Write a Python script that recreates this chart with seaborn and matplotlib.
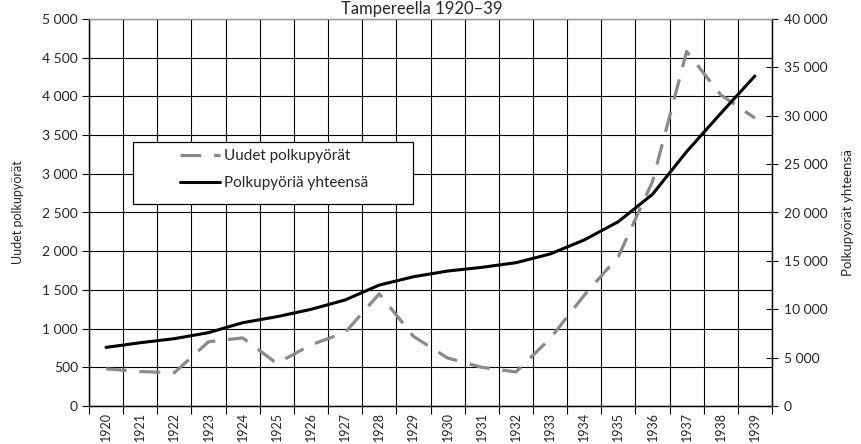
import matplotlib
matplotlib.use("Agg")
import matplotlib.pyplot as plt
import seaborn as sns
import pandas as pd
from matplotlib.patches import Rectangle
from matplotlib.ticker import FixedLocator

years = list(range(1920, 1940))
new_bikes = [480, 445, 430, 830, 880, 550, 790, 950, 1450, 900, 620, 500, 440, 870, 1430, 1930, 2900, 4580, 4020, 3720]
total_bikes = [6060, 6540, 6960, 7580, 8610, 9230, 9990, 10960, 12500, 13360, 13950, 14330, 14810, 15710, 17160, 19050, 21880, 26290, 30250, 34110]

left_ticks = [0, 500, 1000, 1500, 2000, 2500, 3000, 3500, 4000, 4500, 5000]
right_ticks = [0, 5000, 10000, 15000, 20000, 25000, 30000, 35000, 40000]

title_text = "Tampereella 1920–39"
left_label = "Uudet polkupyörät"
right_label = "Polkupyörät yhteensä"
legend_labels = ["Uudet polkupyörät", "Polkupyöriä yhteensä"]


def fmt(v):
    return f"{v:,}".replace(",", " ")


sns.set_theme(style="white")
plt.rcParams["font.family"] = ["Lato", "DejaVu Sans"]

df = pd.DataFrame({"year": years, "new": new_bikes, "total": total_bikes})

fig = plt.figure(figsize=(8.61, 4.44), dpi=100)
ax1 = fig.add_axes([89 / 861, 38 / 444, 683 / 861, 387 / 444])
ax2 = ax1.twinx()

sns.lineplot(data=df, x="year", y="new", ax=ax1, color="#8a8a8a",
             linewidth=2.3, linestyle=(0, (6.5, 4)))
sns.lineplot(data=df, x="year", y="total", ax=ax2, color="black",
             linewidth=2.2)

ax1.set_xlim(years[0] - 0.5, years[-1] + 0.5)
ax1.set_ylim(left_ticks[0], left_ticks[-1])
ax2.set_ylim(right_ticks[0], right_ticks[-1])

# x axis: labels at category centres, ticks/grid at boundaries
ax1.set_xticks(years)
ax1.set_xticklabels([str(y) for y in years], rotation=90, fontsize=9)
ax1.xaxis.set_minor_locator(FixedLocator([y - 0.5 for y in years] + [years[-1] + 0.5]))
ax1.tick_params(axis="x", which="major", length=0, pad=4.5)
ax1.tick_params(axis="x", which="minor", length=6, width=0.8, color="black", direction="out", bottom=True)

ax1.set_yticks(left_ticks)
ax1.set_yticklabels([fmt(v) for v in left_ticks], fontsize=10)
ax1.tick_params(axis="y", length=5, width=0.8, color="black", direction="out", left=True, pad=3)

ax2.set_yticks(right_ticks)
ax2.set_yticklabels([fmt(v) for v in right_ticks], fontsize=10)
ax2.tick_params(axis="y", length=9, width=0.8, color="black", direction="inout", right=True, pad=4)

ax1.grid(True, axis="y", which="major", color="black", linewidth=0.8)
ax1.grid(True, axis="x", which="minor", color="black", linewidth=0.8)
ax1.grid(False, axis="x", which="major")
ax2.grid(False)

for ax in (ax1, ax2):
    for s in ("left", "bottom", "right"):
        ax.spines[s].set_color("black")
        ax.spines[s].set_linewidth(0.9)
    ax.spines["top"].set_color("#999999")
    ax.spines["top"].set_linewidth(0.9)

ax1.set_xlabel("")
ax1.set_ylabel(left_label, fontsize=9)
ax1.yaxis.set_label_coords((24 - 89) / 683, (406 - 212) / 387)
ax2.set_ylabel(right_label, fontsize=9.5)
ax2.yaxis.set_label_coords((842 - 89) / 683, (406 - 213) / 387)

# legend box
rect = Rectangle(((133 - 89) / 683, (406 - 204) / 387), 280 / 683, 62 / 387,
                 transform=ax2.transAxes, facecolor="white", edgecolor="black",
                 linewidth=0.9, zorder=5)
ax2.add_patch(rect)
handles = [ax1.lines[0], ax2.lines[0]]
leg = ax2.legend(handles, legend_labels, loc="upper left",
                 bbox_to_anchor=((180 - 89) / 683, (406 - 149) / 387),
                 frameon=False, borderpad=0, borderaxespad=0,
                 handlelength=2.6, handletextpad=0.3, labelspacing=0.85,
                 fontsize=11)
leg.set_zorder(6)

fig.text(0.49, 1 - 14 / 444, title_text, ha="center", va="baseline", fontsize=12)

fig.savefig("out.png", dpi=100)
